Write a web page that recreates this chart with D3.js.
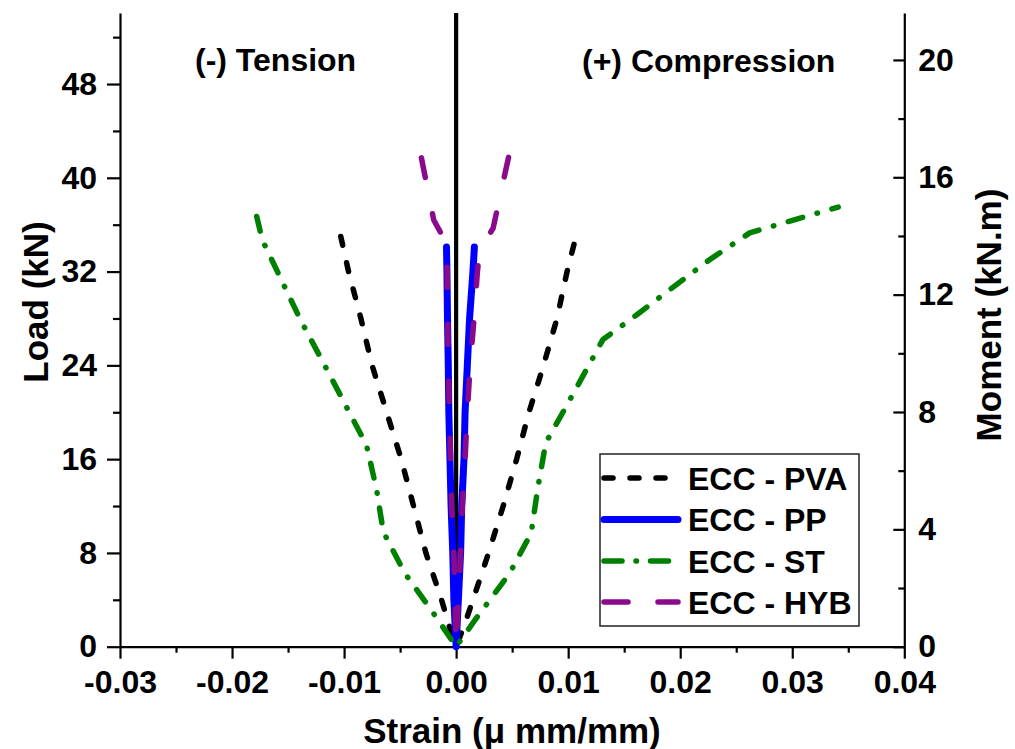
<!DOCTYPE html>
<html>
<head>
<meta charset="utf-8">
<script src="https://cdn.jsdelivr.net/npm/d3@7"></script>
<style>
  body { margin: 0; background: #fff; }
  svg text { font-family: "Liberation Sans", Arial, sans-serif; font-weight: bold; fill: #000; }
</style>
</head>
<body>
<div id="host"></div>
<script>
// Axis data
const strainTicks = [-0.03, -0.02, -0.01, 0.00, 0.01, 0.02, 0.03, 0.04];
const loadTicks = [0, 8, 16, 24, 32, 40, 48];
const momentTicks = [0, 4, 8, 12, 16, 20];

// Series data (strain in mm/mm, load in kN)
const pvaTensionLoad = [0, 2, 4, 8, 12, 16, 20, 24, 28, 32, 35];
const pvaTensionStrain = [0, -0.0007, -0.0013, -0.0027, -0.0038, -0.0049, -0.0062, -0.0075, -0.0085, -0.0096, -0.0103];
const pvaCompLoad = [0, 2, 4, 8, 12, 16, 20, 24, 28, 32, 35];
const pvaCompStrain = [0, 0.0008, 0.0015, 0.0029, 0.0042, 0.0054, 0.0065, 0.0078, 0.0090, 0.0099, 0.0107];

const ppTensionLoad = [0, 4, 8, 12, 16, 20, 24, 28, 32, 34.1];
const ppTensionStrain = [0, -0.0002, -0.0003, -0.00045, -0.00055, -0.00065, -0.0007, -0.00077, -0.00082, -0.00086];
const ppCompLoad = [0, 4, 8, 12, 16, 20, 24, 28, 32, 34.1];
const ppCompStrain = [0, 0.0002, 0.0004, 0.0005, 0.0007, 0.0008, 0.001, 0.0012, 0.0015, 0.00163];

const stTensionLoad = [0, 3.1, 6.3, 9.8, 13.4, 17.2, 23.4, 27.9, 34.7, 36.7];
const stTensionStrain = [0, -0.0022, -0.0046, -0.0065, -0.0071, -0.0080, -0.0114, -0.0139, -0.0173, -0.0178];
const stCompLoad = [0, 2.3, 6.3, 9.7, 13.6, 17.4, 20.8, 26.2, 28.3, 30.7, 33.0, 35.3, 36.4, 37.5];
const stCompStrain = [0, 0.0017, 0.0048, 0.0067, 0.0073, 0.0080, 0.0100, 0.0131, 0.0161, 0.0194, 0.0226, 0.0262, 0.0301, 0.0341];

const hybTensionLoad = [0, 4, 8, 12, 16, 20, 24, 28, 32, 34.4, 36.4, 41.7];
const hybTensionStrain = [0, -0.0001, -0.0002, -0.0004, -0.0005, -0.0006, -0.0007, -0.00075, -0.0008, -0.00085, -0.0020, -0.0031];
const hybCompLoad = [0, 4, 8, 12, 16, 20, 24, 28, 32, 33.8, 35.7, 43.6];
const hybCompStrain = [0, 0.0002, 0.0004, 0.00055, 0.0008, 0.001, 0.00125, 0.0016, 0.0019, 0.0021, 0.0033, 0.0051];

const seriesNames = ["ECC - PVA", "ECC - PP", "ECC - ST", "ECC - HYB"];

// Layout
const width = 1015, height = 749;
const plotLeft = 120, plotRight = 904.3, plotTop = 13, plotBottom = 646.7;

const svg = d3.select("#host").append("svg")
    .attr("width", width)
    .attr("height", height);

const x = d3.scaleLinear().domain([-0.03, 0.04]).range([plotLeft, plotRight]);
const y = d3.scaleLinear().domain([0, 54.06]).range([plotBottom, plotTop]);
const yMoment = d3.scaleLinear().domain([0, 21.6]).range([plotBottom, plotTop]);

function minorValues(ticks) {
    const out = [];
    for (let i = 0; i < ticks.length - 1; i++) out.push((ticks[i] + ticks[i + 1]) / 2);
    return out;
}

function styleAxis(g) {
    g.selectAll("path, line").attr("stroke", "#000").attr("stroke-width", 2.2);
    g.selectAll("text").style("font-size", "32px").style("font-family", "'Liberation Sans', Arial, sans-serif")
        .style("font-weight", "bold").attr("fill", "#000");
}

// Bottom axis (plain hyphen for negatives, as in the original)
const strainFormat = d => d.toFixed(2);
const xAxis = svg.append("g").attr("transform", `translate(0,${plotBottom})`)
    .call(d3.axisBottom(x).tickValues(strainTicks).tickSize(12).tickSizeOuter(0)
        .tickPadding(12).tickFormat(d => Math.abs(d) < 1e-9 ? "0.00" : strainFormat(d)));
styleAxis(xAxis);
const xMinor = svg.append("g").attr("transform", `translate(0,${plotBottom})`)
    .call(d3.axisBottom(x).tickValues(minorValues(strainTicks)).tickSize(6).tickFormat(""));
styleAxis(xMinor);
xMinor.select(".domain").remove();

// Left axis
const yAxis = svg.append("g").attr("transform", `translate(${plotLeft},0)`)
    .call(d3.axisLeft(y).tickValues(loadTicks).tickSize(13).tickSizeOuter(0).tickPadding(10));
styleAxis(yAxis);
const yMinorVals = minorValues(loadTicks).concat([52]);
const yMinor = svg.append("g").attr("transform", `translate(${plotLeft},0)`)
    .call(d3.axisLeft(y).tickValues(yMinorVals).tickSize(7).tickFormat(""));
styleAxis(yMinor);
yMinor.select(".domain").remove();

// Right axis (ticks point inward)
const mAxis = svg.append("g").attr("transform", `translate(${plotRight},0)`)
    .call(d3.axisRight(yMoment).tickValues(momentTicks).tickSize(-11).tickSizeOuter(0).tickPadding(14));
styleAxis(mAxis);
mAxis.selectAll("text").attr("x", 14);
const mMinor = svg.append("g").attr("transform", `translate(${plotRight},0)`)
    .call(d3.axisRight(yMoment).tickValues(minorValues(momentTicks)).tickSize(-6).tickFormat(""));
styleAxis(mMinor);
mMinor.select(".domain").remove();

// Zero strain reference line
svg.append("line")
    .attr("x1", x(0)).attr("x2", x(0))
    .attr("y1", plotBottom).attr("y2", plotTop)
    .attr("stroke", "#000").attr("stroke-width", 4.2);

// Series
function branchPoints(tLoad, tStrain, cLoad, cStrain) {
    const pts = [];
    for (let i = tLoad.length - 1; i >= 0; i--) pts.push([tStrain[i], tLoad[i]]);
    for (let i = 1; i < cLoad.length; i++) pts.push([cStrain[i], cLoad[i]]);
    return pts;
}

const series = [
    { name: seriesNames[0], color: "#000000", width: 5.5, dash: "9,18",
      pts: branchPoints(pvaTensionLoad, pvaTensionStrain, pvaCompLoad, pvaCompStrain) },
    { name: seriesNames[1], color: "#0000ff", width: 7, dash: null,
      pts: branchPoints(ppTensionLoad, ppTensionStrain, ppCompLoad, ppCompStrain) },
    { name: seriesNames[2], color: "#008000", width: 5.5, dash: "15,15,0.5,15",
      pts: branchPoints(stTensionLoad, stTensionStrain, stCompLoad, stCompStrain) },
    { name: seriesNames[3], color: "#8b0a8b", width: 5.5, dash: "20,37",
      pts: branchPoints(hybTensionLoad, hybTensionStrain, hybCompLoad, hybCompStrain) }
];

const line = d3.line().x(d => x(d[0])).y(d => y(d[1]));

svg.append("g").selectAll("path")
    .data(series)
    .join("path")
    .attr("d", d => line(d.pts))
    .attr("fill", "none")
    .attr("stroke", d => d.color)
    .attr("stroke-width", d => d.width)
    .attr("stroke-dasharray", d => d.dash)
    .attr("stroke-linecap", "round")
    .attr("stroke-linejoin", "round");

// Region labels
svg.append("text").attr("x", 195).attr("y", 71).style("font-size", "32px").text("(-) Tension");
svg.append("text").attr("x", 582).attr("y", 72).style("font-size", "32px").text("(+) Compression");

// Axis titles
svg.append("text").attr("x", 512).attr("y", 743).attr("text-anchor", "middle")
    .style("font-size", "35px").text("Strain (\u03bc mm/mm)");
svg.append("text").attr("transform", "translate(48,302) rotate(-90)").attr("text-anchor", "middle")
    .style("font-size", "35px").text("Load (kN)");
svg.append("text").attr("transform", "translate(1001,315) rotate(-90)").attr("text-anchor", "middle")
    .style("font-size", "35px").text("Moment (kN.m)");

// Legend
const legend = svg.append("g");
legend.append("rect")
    .attr("x", 600).attr("y", 454).attr("width", 259).attr("height", 172)
    .attr("fill", "#fff").attr("stroke", "#222").attr("stroke-width", 1.5);
const rowY = [478, 519.5, 561, 602];
const legendRows = legend.selectAll("g.row")
    .data(series)
    .join("g").attr("class", "row")
    .attr("transform", (d, i) => `translate(0,${rowY[i]})`);
legendRows.append("line")
    .attr("x1", 604).attr("x2", 678).attr("y1", 0).attr("y2", 0)
    .attr("stroke", d => d.color)
    .attr("stroke-width", d => d.width)
    .attr("stroke-dasharray", (d, i) => i === 0 ? "9,17" : (i === 2 ? "18,14,0.5,14" : (i === 3 ? "24,30" : null)))
    .attr("stroke-linecap", "round");
legendRows.append("text")
    .attr("x", 688).attr("y", 11.5)
    .style("font-size", "32px")
    .text(d => d.name);
</script>
</body>
</html>
